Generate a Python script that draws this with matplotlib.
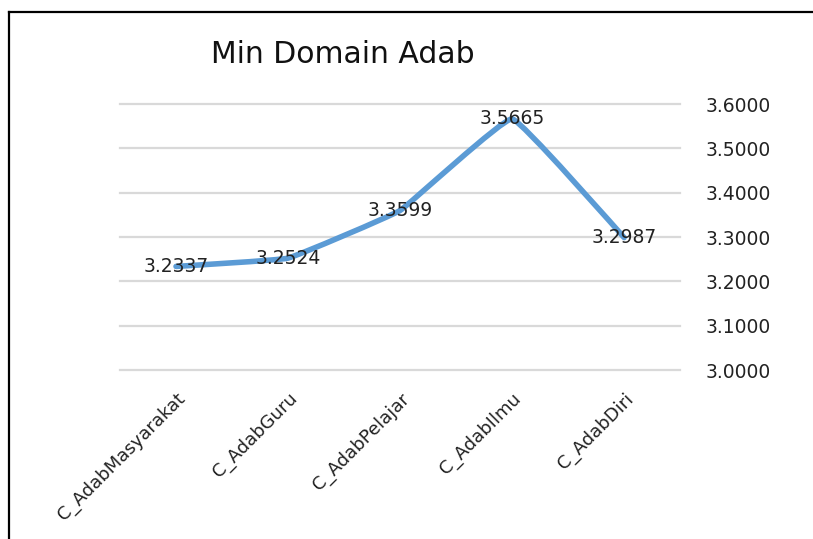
import numpy as np
import matplotlib
matplotlib.use("Agg")
import matplotlib.pyplot as plt
from matplotlib.path import Path
from matplotlib.patches import PathPatch
from matplotlib.lines import Line2D

# data
categories = ["C_AdabMasyarakat", "C_AdabGuru", "C_AdabPelajar", "C_AdabIlmu", "C_AdabDiri"]
values = [3.2337, 3.2524, 3.3599, 3.5665, 3.2987]
yticks = [3.0, 3.1, 3.2, 3.3, 3.4, 3.5, 3.6]

plt.rcParams['font.family'] = ['DejaVu Sans']

fig = plt.figure(figsize=(8.13, 5.39), dpi=100)
ax = fig.add_axes([0.1476, 0.3135, 0.689, 0.4935])

x = np.arange(len(categories))
y = np.array(values)

# lightly smoothed line (bezier control points from neighbouring points)
k = 0.04
verts = [(x[0], y[0])]
codes = [Path.MOVETO]
n = len(x)
for i in range(n - 1):
    p0 = (x[max(i - 1, 0)], y[max(i - 1, 0)])
    p1 = (x[i], y[i])
    p2 = (x[i + 1], y[i + 1])
    p3 = (x[min(i + 2, n - 1)], y[min(i + 2, n - 1)])
    c1 = (p1[0] + (p2[0] - p0[0]) * k, p1[1] + (p2[1] - p0[1]) * k)
    c2 = (p2[0] - (p3[0] - p1[0]) * k, p2[1] - (p3[1] - p1[1]) * k)
    verts += [c1, c2, p2]
    codes += [Path.CURVE4] * 3
ax.add_patch(PathPatch(Path(verts, codes), facecolor='none', edgecolor='#5B9BD5',
                       lw=4, capstyle='round', joinstyle='round', zorder=3))

for xi, yi in zip(x, y):
    ax.text(xi, yi, f"{yi:.4f}", ha='center', va='center', fontsize=13.5,
            color='#222222', zorder=4)

ax.set_xlim(-0.5, len(categories) - 0.5)
ax.set_ylim(3.0, 3.6)
ax.set_yticks(yticks)
ax.set_yticklabels([f"{t:.4f}" for t in yticks], fontsize=13.5, color='#222222')
ax.yaxis.tick_right()
ax.tick_params(axis='y', length=0, pad=18)
ax.grid(axis='y', color='#D9D9D9', lw=1.6)
for gl in ax.get_ygridlines():
    gl.set_clip_on(False)
ax.set_axisbelow(True)

ax.set_xticks(x)
ax.set_xticklabels(categories, rotation=45, ha='right', rotation_mode='anchor',
                   fontsize=13, color='#222222')
ax.tick_params(axis='x', length=0, pad=14)

for s in ax.spines.values():
    s.set_visible(False)

fig.text(0.422, 0.898, "Min Domain Adab", ha='center', va='center', fontsize=21.5,
         color='#111111')

# outer frame (top and left edges visible)
fig.add_artist(Line2D([9 / 813, 1.0], [1 - 12 / 539, 1 - 12 / 539], transform=fig.transFigure,
                      color='black', lw=1.6))
fig.add_artist(Line2D([9 / 813, 9 / 813], [0.0, 1 - 12 / 539], transform=fig.transFigure,
                      color='black', lw=1.6))

fig.savefig("out.png", dpi=100)
